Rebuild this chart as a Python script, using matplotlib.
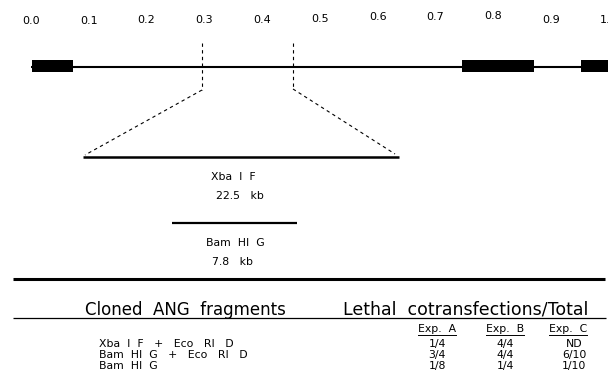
import matplotlib
matplotlib.use("Agg")
import matplotlib.pyplot as plt
from matplotlib.patches import Rectangle

plt.rcParams["font.family"] = ["DejaVu Sans"]

# map scale (fraction of genome)
map_ticks = [0.0, 0.1, 0.2, 0.3, 0.4, 0.5, 0.6, 0.7, 0.8, 0.9, 1.0]
tick_labels = ["0.0", "0.1", "0.2", "0.3", "0.4", "0.5", "0.6", "0.7", "0.8", "0.9", "1.0"]
# repeat regions drawn as black boxes (map units)
box_starts = [0.002, 0.746, 0.952]
box_ends = [0.073, 0.870, 1.02]
# cloned region that is expanded below
region = [0.296, 0.453]

fragment_names = ["Xba  I  F", "Bam  HI  G"]
fragment_sizes = ["22.5   kb", "7.8   kb"]

# table
col_headers = ["Exp.  A", "Exp.  B", "Exp.  C"]
row_labels = ["Xba  I  F   +   Eco   RI   D", "Bam  HI  G   +   Eco   RI   D", "Bam  HI  G"]
exp_a = ["1/4", "3/4", "1/8"]
exp_b = ["4/4", "4/4", "1/4"]
exp_c = ["ND", "6/10", "1/10"]

W, H = 608, 379
fig = plt.figure(figsize=(W / 100, H / 100), dpi=100)

# layout axes in pixel units
ax = fig.add_axes([0, 0, 1, 1])
ax.set_xlim(0, W)
ax.set_ylim(H, 0)
ax.axis("off")

# map axes: x in map units, y in pixels
ax_map = fig.add_axes([0, 0, 1, 1])
ax_map.set_xlim(-31 / 578, (W - 31) / 578)
ax_map.set_ylim(H, 0)
ax_map.axis("off")
ax_map.patch.set_alpha(0)

fs_small = 7.8
y_axis = 66.5
label_y = [21, 21, 20, 20, 20, 19, 17, 17, 16, 20, 20]
for t, lab, ly in zip(map_ticks, tick_labels, label_y):
    ax_map.text(t, ly, lab, ha="center", va="center", fontsize=8)

ax_map.plot([0, 1.05], [y_axis, y_axis], color="black", lw=1.5, solid_capstyle="butt")
for s, e in zip(box_starts, box_ends):
    ax_map.add_patch(Rectangle((s, 60), e - s, 12, color="black", lw=0))

# dashed guide lines down to the expanded fragment
dash = (0, (3, 3))
ax_map.plot([region[0], region[0]], [43, 90], color="black", lw=0.8, ls=dash)
ax_map.plot([region[1], region[1]], [43, 89], color="black", lw=0.8, ls=dash)

xba_x = [83, 399]
bam_x = [172, 297]
xba_y, bam_y = 157, 223
ax.plot([202, xba_x[0] + 2], [90, 155], color="black", lw=0.8, ls=dash)
ax.plot([293, xba_x[1] - 4], [89, 154], color="black", lw=0.8, ls=dash)

ax.plot(xba_x, [xba_y, xba_y], color="black", lw=1.8, solid_capstyle="butt")
ax.plot(bam_x, [bam_y, bam_y], color="black", lw=1.6, solid_capstyle="butt")
ax.text(233, 177, fragment_names[0], ha="center", va="center", fontsize=fs_small)
ax.text(240, 196, fragment_sizes[0], ha="center", va="center", fontsize=fs_small)
ax.text(235, 243, fragment_names[1], ha="center", va="center", fontsize=fs_small)
ax.text(232, 262, fragment_sizes[1], ha="center", va="center", fontsize=fs_small)

# separator
ax.plot([13, 605], [279, 279], color="black", lw=2.2, solid_capstyle="butt")

# table
ax.text(185, 310, "Cloned  ANG  fragments", ha="center", va="center", fontsize=12)
ax.text(466, 310, "Lethal  cotransfections/Total", ha="center", va="center", fontsize=12.5)
ax.plot([13, 606], [318, 318], color="black", lw=0.9, solid_capstyle="butt")

col_x = [437, 505, 568]
fig.canvas.draw()
renderer = fig.canvas.get_renderer()
inv = ax.transData.inverted()
for cx, hdr in zip(col_x, col_headers):
    t = ax.text(cx, 329, hdr, ha="center", va="center", fontsize=fs_small)
    bb = t.get_window_extent(renderer)
    (x0, _), (x1, _) = inv.transform([(bb.x0, bb.y0), (bb.x1, bb.y0)])
    ax.plot([x0, x1], [334.5, 334.5], color="black", lw=0.7)

row_y = [344, 355, 366]
for ry, lab, a, b, c in zip(row_y, row_labels, exp_a, exp_b, exp_c):
    ax.text(99, ry, lab, ha="left", va="center", fontsize=fs_small)
    ax.text(col_x[0], ry, a, ha="center", va="center", fontsize=fs_small)
    ax.text(col_x[1], ry, b, ha="center", va="center", fontsize=fs_small)
    ax.text(col_x[2] + 6, ry, c, ha="center", va="center", fontsize=fs_small)

fig.savefig("out.png", dpi=100)
